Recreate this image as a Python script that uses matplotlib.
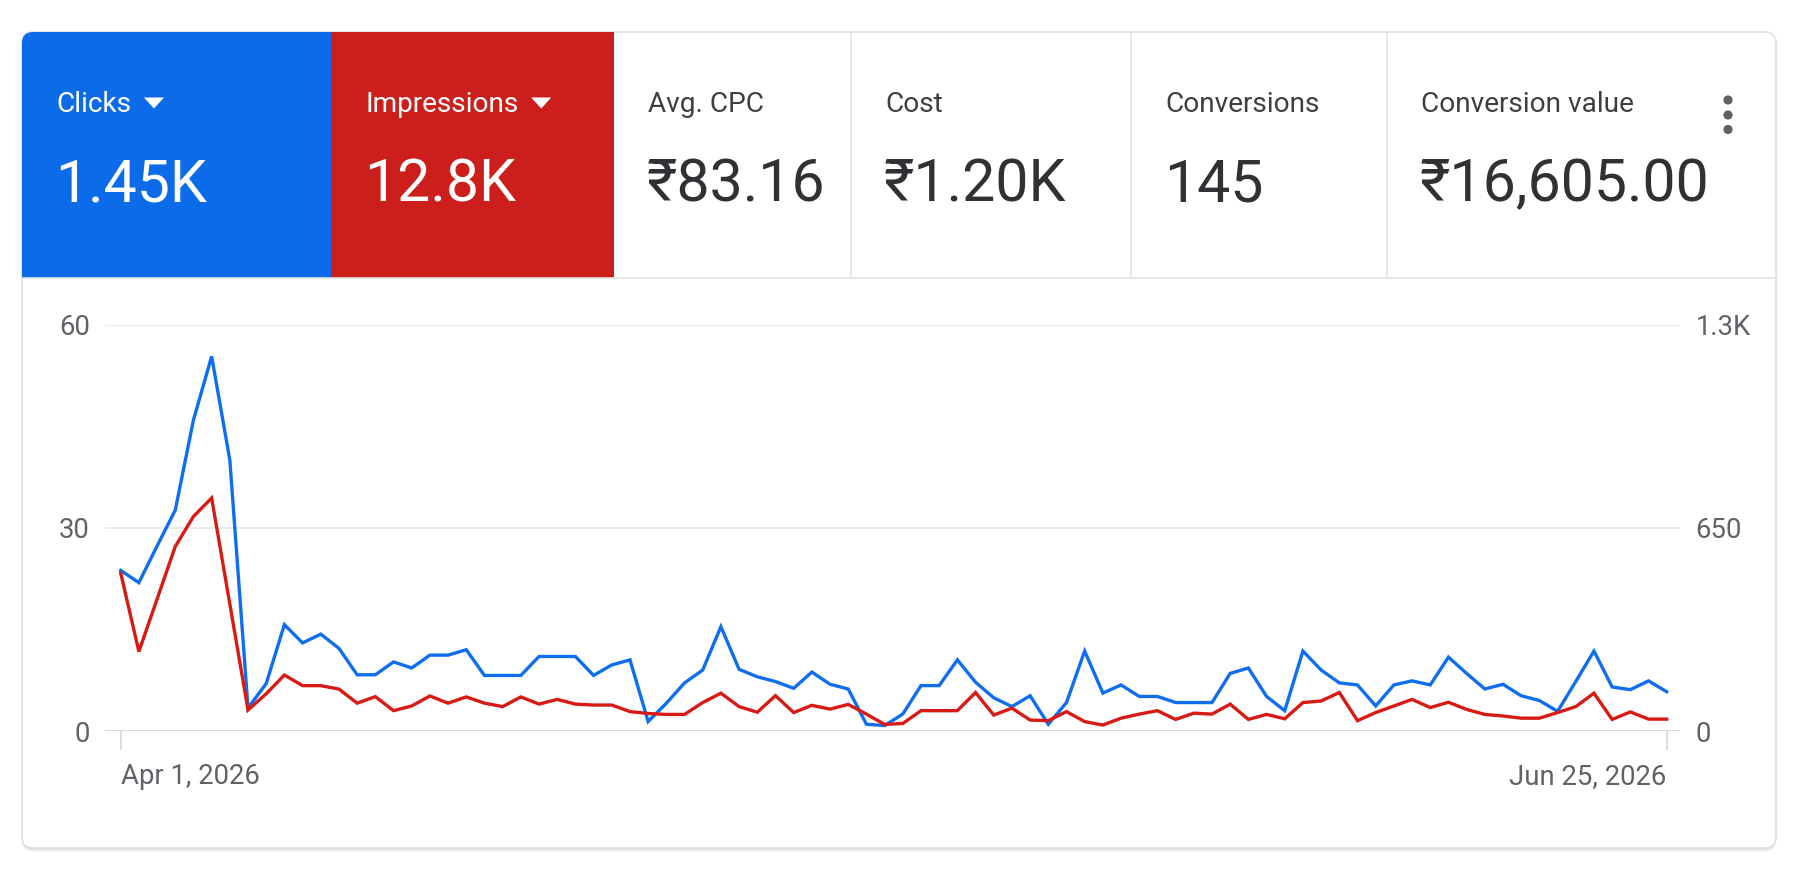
import numpy as np
import pandas as pd
import matplotlib
matplotlib.use("Agg")
import matplotlib.pyplot as plt
from matplotlib.patches import FancyBboxPatch, Rectangle, Polygon, Circle
from matplotlib.transforms import blended_transform_factory

# ---------------- data ----------------
dates = pd.date_range("2026-04-01", "2026-06-25", freq="D")
clicks = [23.7, 21.9, 27.3, 32.6, 45.9, 55.3, 40.0, 3.4, 7.0, 15.7,
          13.0, 14.3, 12.2, 8.3, 8.3, 10.2, 9.3, 11.2, 11.2, 12.0,
          8.2, 8.2, 8.2, 11.0, 11.0, 11.0, 8.2, 9.75, 10.5, 1.4,
          4.1, 7.1, 9.0, 15.4, 9.1, 8.0, 7.3, 6.3, 8.7, 6.9,
          6.2, 1.0, 0.8, 2.5, 6.7, 6.7, 10.5, 7.2, 4.9, 3.6,
          5.2, 1.0, 4.2, 11.8, 5.6, 6.8, 5.1, 5.1, 4.2, 4.2,
          4.2, 8.5, 9.3, 5.1, 3.0, 11.8, 9.0, 7.1, 6.8, 3.7,
          6.8, 7.4, 6.8, 10.9, 8.5, 6.2, 6.9, 5.2, 4.5, 2.9,
          7.3, 11.8, 6.5, 6.1, 7.4, 5.8]
impressions = [505, 254, 422, 590, 686, 745, 406, 67, 119, 179,
               145, 145, 134, 89, 110, 65, 80, 112, 89, 109,
               89, 78, 109, 86, 101, 86, 83, 83, 62, 56,
               53, 53, 91, 121, 78, 60, 113, 59, 82, 70,
               85, 54, 21, 24, 65, 65, 65, 123, 51, 73,
               35, 33, 62, 30, 19, 41, 54, 65, 37, 57,
               54, 86, 37, 53, 39, 91, 96, 123, 33, 59,
               80, 101, 75, 92, 69, 53, 48, 41, 41, 59,
               78, 121, 37, 61, 38, 38]
left_ticks = [0, 30, 60]
left_labels = ["0", "30", "60"]
right_ticks = [0, 650, 1300]
right_labels = ["0", "650", "1.3K"]
x_tick_labels = ["Apr 1, 2026", "Jun 25, 2026"]
metric_names = ["Clicks", "Impressions", "Avg. CPC", "Cost", "Conversions", "Conversion value"]
metric_values = ["1.45K", "12.8K", "₹83.16", "₹1.20K", "145", "₹16,605.00"]

# ---------------- style ----------------
plt.rcParams['font.family'] = ['Roboto', 'Noto Sans', 'DejaVu Sans']
W, H = 1797, 875
BLUE_TILE = "#0b6be8"
RED_TILE = "#cc1f1b"
BLUE_LINE = "#0f6ef0"
RED_LINE = "#d81a15"
GRID = "#e4e4e4"
TXT_GRAY = "#5f6368"
TICK_FS = 19.8

fig = plt.figure(figsize=(W / 100, H / 100), dpi=100)
fig.patch.set_facecolor("white")

bg = fig.add_axes([0, 0, 1, 1])
bg.set_xlim(0, W)
bg.set_ylim(H, 0)
bg.axis("off")

card_x0, card_y0, card_x1, card_y1 = 22, 32, 1776, 848
header_bottom = 278
edges = [22, 331, 614, 851, 1131, 1387, 1776]

# shadow
for off, a in [(4, 0.035), (2.5, 0.05), (1.2, 0.06)]:
    bg.add_patch(FancyBboxPatch((card_x0, card_y0 + off), card_x1 - card_x0, card_y1 - card_y0,
                                boxstyle="round,pad=0,rounding_size=11",
                                facecolor="black", edgecolor="none", alpha=a, zorder=1))
bg.add_patch(FancyBboxPatch((card_x0, card_y0), card_x1 - card_x0, card_y1 - card_y0,
                            boxstyle="round,pad=0,rounding_size=11",
                            facecolor="white", edgecolor="#e0e0e0", linewidth=1.2, zorder=2))

# blue tile with rounded top-left corner
bg.add_patch(FancyBboxPatch((edges[0], card_y0), edges[1] - edges[0], header_bottom - card_y0,
                            boxstyle="round,pad=0,rounding_size=11",
                            facecolor=BLUE_TILE, edgecolor="none", zorder=3))
bg.add_patch(Rectangle((edges[0] + 15, card_y0), edges[1] - edges[0] - 15, header_bottom - card_y0,
                       facecolor=BLUE_TILE, edgecolor="none", zorder=3))
bg.add_patch(Rectangle((edges[0], card_y0 + 15), edges[1] - edges[0], header_bottom - card_y0 - 15,
                       facecolor=BLUE_TILE, edgecolor="none", zorder=3))
bg.add_patch(Rectangle((edges[1], card_y0), edges[2] - edges[1], header_bottom - card_y0,
                       facecolor=RED_TILE, edgecolor="none", zorder=3))

# separators
bg.plot([card_x0, card_x1], [header_bottom, header_bottom], color="#e2e2e2", lw=1.2, zorder=3)
for ex in edges[3:6]:
    bg.plot([ex, ex], [card_y0, header_bottom], color="#e4e4e4", lw=1.2, zorder=3)

# header texts
for i, (name, val) in enumerate(zip(metric_names, metric_values)):
    tx = edges[i] + 34
    col_l = "white" if i < 2 else "#3c4043"
    col_v = "white" if i < 2 else "#303134"
    t = bg.text(tx, 112.5, name, fontsize=20.2, color=col_l, va="baseline", ha="left", zorder=5)
    bg.text(tx - 1, 201.5, val, fontsize=42.5, color=col_v, va="baseline", ha="left", zorder=5)
    if i < 2:
        fig.canvas.draw()
        bb = t.get_window_extent()
        xr = bb.x1 + 13
        tri = Polygon([[xr, 97.5], [xr + 20, 97.5], [xr + 10, 108.5]], closed=True,
                      facecolor="white", edgecolor="none", zorder=5)
        bg.add_patch(tri)

# three-dot menu
for cy in [100, 115, 129.5]:
    bg.add_patch(Circle((1728, cy), 4.6, facecolor="#5f6368", edgecolor="none", zorder=5))

# ---------------- chart ----------------
ax_l, ax_r = 105, 1680
y_top, y_base = 324.5, 731
ax = fig.add_axes([ax_l / W, (H - y_base) / H, (ax_r - ax_l) / W, (y_base - y_top) / H])
ax.set_zorder(4)
ax.patch.set_visible(False)
x = np.arange(len(dates))
px_per_day = (1666.7 - 120.7) / (len(dates) - 1)
ax.set_xlim(-(120.7 - ax_l) / px_per_day, (len(dates) - 1) + (ax_r - 1666.7) / px_per_day)
ax.set_ylim(left_ticks[0], left_ticks[-1])

for s in ax.spines.values():
    s.set_visible(False)
ax.set_yticks(left_ticks)
ax.set_yticklabels(left_labels)
ax.tick_params(axis="y", length=0, pad=11, labelsize=TICK_FS, labelcolor=TXT_GRAY)
ax.grid(axis="y", color=GRID, lw=1.1)
ax.set_axisbelow(True)
ax.axhline(0, color="#d6d6d6", lw=1.4, zorder=1)

ax.set_xticks([x[0], x[-1]])
ax.set_xticklabels(["", ""])
ax.tick_params(axis="x", length=13.5, width=1.1, color="#d3d3d3", direction="out", pad=0)
trans = blended_transform_factory(ax.transData, ax.transAxes)
base_y = (y_base - 784) / (y_base - y_top)
ax.text(x[0], base_y, x_tick_labels[0], transform=trans, ha="left", va="baseline",
        fontsize=TICK_FS, color=TXT_GRAY)
ax.text(x[-1], base_y, x_tick_labels[1], transform=trans, ha="right", va="baseline",
        fontsize=TICK_FS, color=TXT_GRAY)

ax.plot(x, clicks, color=BLUE_LINE, lw=2.4, solid_joinstyle="miter", zorder=3)

ax2 = ax.twinx()
ax2.set_ylim(right_ticks[0], right_ticks[-1])
for s in ax2.spines.values():
    s.set_visible(False)
ax2.set_yticks(right_ticks)
ax2.set_yticklabels(right_labels)
ax2.tick_params(axis="y", length=0, pad=11, labelsize=TICK_FS, labelcolor=TXT_GRAY)
ax2.plot(x, impressions, color=RED_LINE, lw=2.4, solid_joinstyle="miter", zorder=3)

fig.savefig("out.png", dpi=100, facecolor="white")
